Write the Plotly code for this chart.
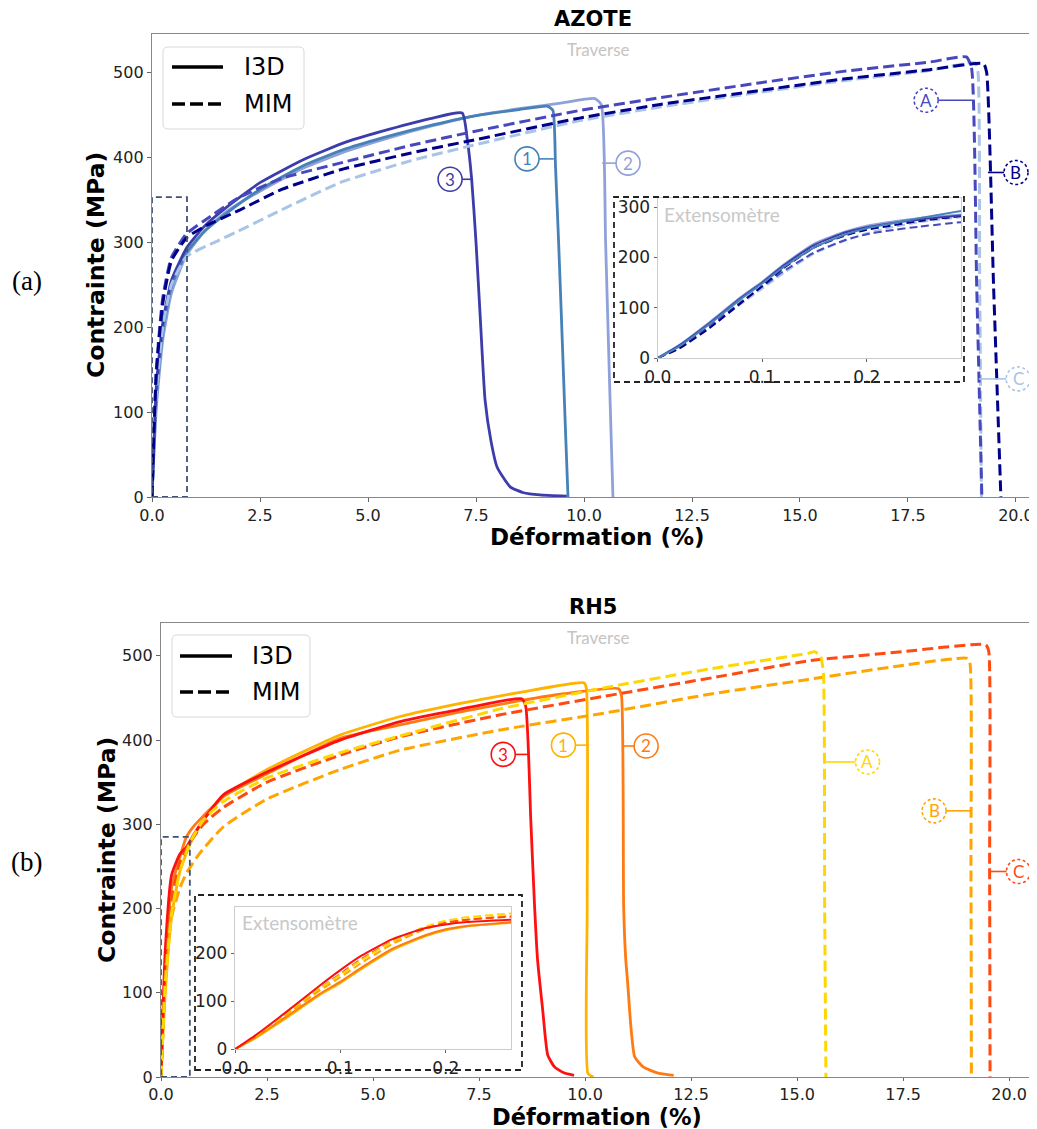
import plotly.graph_objects as go

W, H = 1037, 1129
OFF = 8  # page body margin offset (pixels)

# ===================== DATA =====================
# ---- AZOTE (top), Traverse ----
az_i3d1_x = [0, 0.1, 0.25, 0.45, 0.8, 1.2, 1.7, 2.5, 3.5, 4.5, 5.5, 6.5, 7.5, 8.5, 9.15, 9.28, 9.34, 9.42, 9.5, 9.57, 9.63]
az_i3d1_y = [0, 115, 195, 248, 288, 312, 333, 362, 390, 410, 425, 438, 449, 456, 460, 455, 390, 290, 180, 80, 0]
az_i3d2_x = [0, 0.1, 0.25, 0.45, 0.8, 1.2, 1.7, 2.5, 3.5, 4.5, 5.5, 6.5, 7.5, 8.5, 9.5, 10.25, 10.4, 10.5, 10.6, 10.67]
az_i3d2_y = [0, 105, 185, 240, 285, 312, 335, 360, 387, 407, 423, 437, 449, 457, 464, 469, 462, 300, 120, 0]
az_i3d3_x = [0, 0.1, 0.25, 0.45, 0.8, 1.2, 1.7, 2.5, 3.5, 4.5, 5.5, 6.5, 7.18, 7.3, 7.4, 7.5, 7.6, 7.71, 7.85, 7.99, 8.29, 8.6, 8.98, 9.6]
az_i3d3_y = [0, 130, 205, 255, 293, 318, 340, 370, 397, 418, 433, 446, 452, 420, 374, 300, 210, 114, 65, 35, 12, 5, 2.4, 1]
az_mimA_x = [0, 0.1, 0.25, 0.45, 0.8, 1.2, 2.0, 3.0, 4.35, 6.0, 7.43, 9.9, 11.76, 14.0, 16.0, 18.0, 18.85, 18.97, 19.09, 19.21]
az_mimA_y = [0, 150, 235, 282, 310, 325, 352, 375, 393, 414, 430, 455, 470, 487, 501, 512, 518, 505, 250, 0]
az_mimB_x = [0, 0.1, 0.25, 0.45, 0.8, 1.2, 2.04, 3.0, 4.35, 6.0, 7.43, 9.9, 11.76, 14.0, 16.0, 18.0, 19.25, 19.32, 19.48, 19.65]
az_mimB_y = [0, 145, 228, 278, 305, 318, 338, 362, 385, 405, 420, 446, 462, 478, 492, 503, 510, 500, 250, 0]
az_mimC_x = [0, 0.1, 0.25, 0.45, 0.8, 1.5, 2.0, 3.0, 4.35, 6.0, 7.43, 9.9, 11.76, 14.0, 16.0, 18.0, 19.05, 19.12, 19.16, 19.2]
az_mimC_y = [0, 120, 200, 250, 283, 301, 313, 338, 370, 396, 414, 443, 459, 476, 490, 502, 511, 500, 250, 0]

# ---- AZOTE (top), Extensometre inset ----
az_ext_x = [0, 0.02, 0.05, 0.08, 0.1, 0.12, 0.15, 0.18, 0.2, 0.22, 0.25, 0.29]
az_ext_i3d1 = [0, 22, 68, 118, 148, 180, 220, 246, 258, 266, 278, 292]
az_ext_i3d2 = [0, 25, 72, 122, 152, 185, 228, 252, 263, 270, 278, 285]
az_ext_i3d3 = [0, 24, 70, 120, 150, 183, 225, 250, 260, 267, 275, 283]
az_ext_mimA = [0, 20, 64, 112, 142, 172, 210, 235, 246, 253, 261, 270]
az_ext_mimB = [0, 18, 60, 110, 143, 178, 220, 244, 255, 262, 272, 282]
az_ext_mimC = [0, 20, 62, 108, 138, 168, 208, 234, 248, 258, 270, 280]

# ---- RH5 (bottom), Traverse ----
rh_i3d1_x = [0, 0.1, 0.25, 0.45, 0.7, 1.0, 1.47, 2.5, 4.22, 5.64, 7.0, 8.5, 9.97, 10.03, 10.05, 10.07, 10.2]
rh_i3d1_y = [0, 100, 190, 245, 278, 305, 333, 365, 406, 428, 443, 457, 468, 462, 200, 4, 0]
rh_i3d2_x = [0, 0.1, 0.25, 0.45, 0.6, 0.76, 1.0, 1.47, 2.5, 4.22, 5.64, 7.0, 8.5, 9.5, 10.79, 10.86, 10.91, 10.96, 11.0, 11.08, 11.17, 11.37, 11.7, 12.09]
rh_i3d2_y = [0, 130, 225, 262, 285, 297, 310, 333, 360, 402, 418, 433, 447, 455, 461, 452, 202, 139, 115, 60, 24, 12, 5, 2]
rh_i3d3_x = [0, 0.1, 0.25, 0.45, 0.6, 0.8, 1.0, 1.47, 2.5, 4.22, 5.64, 7.0, 8.5, 8.6, 8.72, 8.81, 8.88, 9.0, 9.12, 9.28, 9.5, 9.74]
rh_i3d3_y = [0, 150, 240, 265, 273, 290, 305, 335, 362, 400, 422, 436, 449, 440, 305, 202, 139, 80, 26, 12, 5, 2]
rh_mimA_x = [0, 0.1, 0.25, 0.45, 0.7, 1.0, 1.47, 2.5, 4.22, 5.64, 8.0, 10.45, 13.0, 15.26, 15.41, 15.55, 15.62, 15.65, 15.68]
rh_mimA_y = [0, 110, 195, 245, 280, 305, 327, 355, 385, 405, 437, 462, 485, 503, 505, 500, 480, 200, 0]
rh_mimB_x = [0, 0.12, 0.25, 0.45, 0.6, 0.92, 1.47, 2.5, 4.22, 5.64, 8.0, 10.45, 13.0, 15.26, 17.4, 19.02, 19.08, 19.1, 19.11]
rh_mimB_y = [0, 131, 190, 225, 242, 266, 297, 330, 365, 388, 412, 432, 455, 472, 488, 497, 490, 250, 0]
rh_mimC_x = [0, 0.1, 0.25, 0.45, 0.7, 1.0, 1.47, 2.5, 4.22, 5.64, 8.0, 10.45, 13.0, 15.26, 17.5, 19.45, 19.52, 19.54, 19.55]
rh_mimC_y = [0, 120, 210, 255, 280, 300, 320, 350, 382, 404, 430, 452, 474, 494, 505, 513, 505, 250, 0]

# ---- RH5 (bottom), Extensometre inset ----
rh_ext_x = [0, 0.02, 0.05, 0.08, 0.1, 0.12, 0.15, 0.18, 0.2, 0.22, 0.262]
rh_ext_i3d1 = [0, 24, 67, 112, 138, 167, 207, 235, 248, 256, 263]
rh_ext_i3d2 = [0, 26, 70, 115, 141, 170, 210, 237, 250, 257, 265]
rh_ext_i3d3 = [0, 30, 80, 132, 165, 195, 230, 252, 260, 265, 270]
rh_ext_mimA = [0, 28, 76, 126, 155, 186, 225, 255, 268, 275, 283]
rh_ext_mimB = [0, 27, 73, 122, 150, 180, 220, 250, 263, 270, 278]
rh_ext_mimC = [0, 28, 76, 126, 157, 188, 226, 253, 264, 270, 276]

x_ticks_main = [0, 2.5, 5, 7.5, 10, 12.5, 15, 17.5, 20]
x_ticks_main_txt = ["0.0", "2.5", "5.0", "7.5", "10.0", "12.5", "15.0", "17.5", "20.0"]
y_ticks_main = [0, 100, 200, 300, 400, 500]
x_ticks_inset = [0, 0.1, 0.2]
x_ticks_inset_txt = ["0.0", "0.1", "0.2"]

# ===================== STYLE =====================
AZ = {"1": "#4682B8", "2": "#8FA1DA", "3": "#3C3CAA", "A": "#4848BE", "B": "#00008B", "C": "#A8C4E6"}
RH = {"1": "#FFB300", "2": "#FF7A12", "3": "#FF1010", "A": "#FFD700", "B": "#FFA500", "C": "#FF4A12"}
DASH = "11px,5px"

def px(x):
    return (x - OFF) / W

def py(y):
    return 1 - (y - OFF) / H

G = {
    "top": dict(l=152, r=1035, t=34, b=497, xr=[0, 20.44], yr=[0, 545]),
    "topin": dict(l=657.7, r=961, t=198, b=358, xr=[0, 0.29], yr=[0, 318]),
    "bot": dict(l=161, r=1035, t=623, b=1077, xr=[0, 20.61], yr=[0, 539]),
    "botin": dict(l=235, r=511, t=906.7, b=1049.3, xr=[0, 0.262], yr=[0, 297]),
}

fig = go.Figure()

def add_line(x, y, color, dash, width, xa, ya):
    fig.add_trace(go.Scatter(
        x=x, y=y, mode="lines", xaxis=xa, yaxis=ya, showlegend=False, hoverinfo="skip",
        line=dict(color=color, width=width, dash=dash, shape="spline", smoothing=0.5)))

# top main
add_line(az_i3d2_x, az_i3d2_y, AZ["2"], "solid", 2.8, "x", "y")
add_line(az_i3d1_x, az_i3d1_y, AZ["1"], "solid", 2.8, "x", "y")
add_line(az_i3d3_x, az_i3d3_y, AZ["3"], "solid", 2.8, "x", "y")
add_line(az_mimC_x, az_mimC_y, AZ["C"], DASH, 3, "x", "y")
add_line(az_mimA_x, az_mimA_y, AZ["A"], DASH, 3, "x", "y")
add_line(az_mimB_x, az_mimB_y, AZ["B"], DASH, 3, "x", "y")
# top inset
for yy, k, d in [(az_ext_mimC, "C", DASH), (az_ext_mimA, "A", DASH), (az_ext_mimB, "B", DASH),
                 (az_ext_i3d2, "2", "solid"), (az_ext_i3d3, "3", "solid"), (az_ext_i3d1, "1", "solid")]:
    add_line(az_ext_x, yy, AZ[k], "8px,4px" if d != "solid" else "solid", 2, "x2", "y2")
# bottom main
add_line(rh_i3d1_x, rh_i3d1_y, RH["1"], "solid", 2.8, "x3", "y3")
add_line(rh_i3d2_x, rh_i3d2_y, RH["2"], "solid", 2.8, "x3", "y3")
add_line(rh_i3d3_x, rh_i3d3_y, RH["3"], "solid", 2.8, "x3", "y3")
add_line(rh_mimB_x, rh_mimB_y, RH["B"], DASH, 3, "x3", "y3")
add_line(rh_mimC_x, rh_mimC_y, RH["C"], DASH, 3, "x3", "y3")
add_line(rh_mimA_x, rh_mimA_y, RH["A"], DASH, 3, "x3", "y3")
# bottom inset
for yy, k, d in [(rh_ext_i3d1, "1", "solid"), (rh_ext_i3d2, "2", "solid"),
                 (rh_ext_mimB, "B", DASH), (rh_ext_mimC, "C", DASH), (rh_ext_mimA, "A", DASH),
                 (rh_ext_i3d3, "3", "solid")]:
    add_line(rh_ext_x, yy, RH[k], "8px,4px" if d != "solid" else "solid", 2, "x4", "y4")

TICKFONT = dict(family="DejaVu Sans", size=16, color="#222")
INFONT = dict(family="DejaVu Sans", size=17, color="#222")

def xaxis(g, anchor, tv, tt, font, lc, tl):
    return dict(domain=[px(g["l"]), px(g["r"])], range=g["xr"], anchor=anchor, automargin=False,
                tickvals=tv, ticktext=tt, tickfont=font, showgrid=False, zeroline=False,
                showline=True, mirror=True, linecolor=lc, linewidth=1.3,
                ticks="outside", ticklen=tl, tickcolor="#666", tickwidth=1.2)

def yaxis(g, anchor, tv, font, lc, tl):
    return dict(domain=[py(g["b"]), py(g["t"])], range=g["yr"], anchor=anchor, automargin=False,
                tickvals=tv, tickfont=font, showgrid=False, zeroline=False,
                showline=True, mirror=True, linecolor=lc, linewidth=1.3,
                ticks="outside", ticklen=tl, tickcolor="#666", tickwidth=1.2)

layout = dict(
    width=W, height=H, autosize=False, margin=dict(l=0, r=0, t=0, b=0, pad=0, autoexpand=False),
    paper_bgcolor="white", plot_bgcolor="white", showlegend=False,
    xaxis=xaxis(G["top"], "y", x_ticks_main, x_ticks_main_txt, TICKFONT, "#888", 4),
    yaxis=yaxis(G["top"], "x", y_ticks_main, TICKFONT, "#888", 4),
    xaxis2=xaxis(G["topin"], "y2", x_ticks_inset, x_ticks_inset_txt, INFONT, "#ccc", 3),
    yaxis2=yaxis(G["topin"], "x2", [0, 100, 200, 300], INFONT, "#ccc", 3),
    xaxis3=xaxis(G["bot"], "y3", x_ticks_main, x_ticks_main_txt, TICKFONT, "#888", 3),
    yaxis3=yaxis(G["bot"], "x3", y_ticks_main, TICKFONT, "#888", 4),
    xaxis4=xaxis(G["botin"], "y4", x_ticks_inset, x_ticks_inset_txt, INFONT, "#ccc", 3),
    yaxis4=yaxis(G["botin"], "x4", [0, 100, 200], INFONT, "#ccc", 3),
)
fig.update_layout(**layout)

shapes = []
annos = []

def ann(x, y, text, size, color="#000", family="DejaVu Sans", bold=False, xanchor="center", angle=0):
    t = "<b>%s</b>" % text if bold else text
    annos.append(dict(x=px(x), y=py(y), xref="paper", yref="paper", text=t, showarrow=False,
                      xanchor=xanchor, yanchor="middle", textangle=angle,
                      font=dict(family=family, size=size, color=color)))

# titles / axis labels
ann(593, 19, "AZOTE", 21, bold=True)
ann(593, 607, "RH5", 21, bold=True)
ann(597, 537, "Déformation (%)", 23, bold=True)
ann(597, 1117, "Déformation (%)", 22.5, bold=True)
ann(96, 265, "Contrainte (MPa)", 23.5, bold=True, angle=-90)
ann(107, 850, "Contrainte (MPa)", 23.5, bold=True, angle=-90)
ann(27, 281, "(a)", 27, family="Liberation Serif")
ann(26, 862, "(b)", 27, family="Liberation Serif")
ann(598, 50, "Traverse", 17, color="#c4c4c4", family="Lato")
ann(598, 637, "Traverse", 17, color="#c4c4c4", family="Lato")
ann(662, 214, "Extensomètre", 19, color="#c8c8c8", family="Lato", xanchor="left")
ann(240, 922, "Extensomètre", 19, color="#c8c8c8", family="Lato", xanchor="left")

# inset dashed frames and zoom boxes
for (x0, y0, x1, y1) in [(614, 197, 964, 382), (195, 895, 522, 1070)]:
    shapes.append(dict(type="rect", xref="paper", yref="paper", x0=px(x0), x1=px(x1), y0=py(y1), y1=py(y0),
                       line=dict(color="#222", width=1.8, dash="6px,4px")))
shapes.append(dict(type="rect", xref="x", yref="y", x0=0, x1=0.81, y0=0, y1=353,
                   line=dict(color="#3e5272", width=1.8, dash="6px,4px")))
shapes.append(dict(type="rect", xref="x3", yref="y3", x0=0, x1=0.68, y0=0, y1=285,
                   line=dict(color="#3e5272", width=1.8, dash="6px,4px")))

# legends (manual)
def rrect(x0, y0, x1, y1, r):
    P = lambda a, b: "%f,%f" % (px(a), py(b))
    return ("M" + P(x0 + r, y0) + " L" + P(x1 - r, y0) + " Q" + P(x1, y0) + " " + P(x1, y0 + r) +
            " L" + P(x1, y1 - r) + " Q" + P(x1, y1) + " " + P(x1 - r, y1) +
            " L" + P(x0 + r, y1) + " Q" + P(x0, y1) + " " + P(x0, y1 - r) +
            " L" + P(x0, y0 + r) + " Q" + P(x0, y0) + " " + P(x0 + r, y0) + " Z")

for (bx0, by0, bx1, by1, lx0, lx1, ly1, ly2, tx) in [(163, 47, 304, 129, 172, 223, 67, 104, 242),
                                                     (172, 635, 310, 717, 180, 232, 656, 692, 250)]:
    shapes.append(dict(type="path", xref="paper", yref="paper", path=rrect(bx0, by0, bx1, by1, 5),
                       fillcolor="rgba(255,255,255,0.85)", line=dict(color="#d8d8d8", width=1)))
    shapes.append(dict(type="line", xref="paper", yref="paper", x0=px(lx0), x1=px(lx1), y0=py(ly1), y1=py(ly1),
                       line=dict(color="#000", width=3.5)))
    shapes.append(dict(type="line", xref="paper", yref="paper", x0=px(lx0), x1=px(lx1), y0=py(ly2), y1=py(ly2),
                       line=dict(color="#000", width=3.5, dash="13px,5px")))
    ann(tx, ly1, "I3D", 24, xanchor="left")
    ann(tx, ly2, "MIM", 24, xanchor="left")

# circled labels: (key, label x, label y, curve x)
R = 12
top_labels = [("3", 6.90, 374, 7.40), ("1", 8.68, 398, 9.30), ("2", 11.02, 393, 10.42),
              ("A", 17.92, 467, 18.98), ("B", 20.0, 382, 19.35), ("C", 20.05, 139, 19.14)]
bot_labels = [("3", 8.07, 383, 8.68), ("1", 9.49, 394, 10.03), ("2", 11.44, 393, 10.91),
              ("A", 16.66, 374, 15.67), ("B", 18.23, 316, 19.10), ("C", 20.22, 244, 19.56)]

for labels, cols, xa, ya, g in [(top_labels, AZ, "x", "y", G["top"]), (bot_labels, RH, "x3", "y3", G["bot"])]:
    pxu = (g["r"] - g["l"]) / (g["xr"][1] - g["xr"][0])
    for key, lx, ly, cx in labels:
        c = cols[key]
        dashed = key in "ABC"
        shapes.append(dict(type="circle", xref=xa, yref=ya, xsizemode="pixel", ysizemode="pixel",
                           xanchor=lx, yanchor=ly, x0=-R, x1=R, y0=-R, y1=R,
                           line=dict(color=c, width=1.6, dash="3px,2.5px" if dashed else "solid")))
        edge = lx + (R / pxu) * (1 if cx > lx else -1)
        shapes.append(dict(type="line", xref=xa, yref=ya, x0=edge, x1=cx, y0=ly, y1=ly,
                           line=dict(color=c, width=1.6)))
        annos.append(dict(x=lx, y=ly, xref=xa, yref=ya, text=key, showarrow=False,
                          font=dict(family="Lato", size=17, color=c)))

fig.update_layout(shapes=shapes, annotations=annos)
fig.write_html("out.html")
